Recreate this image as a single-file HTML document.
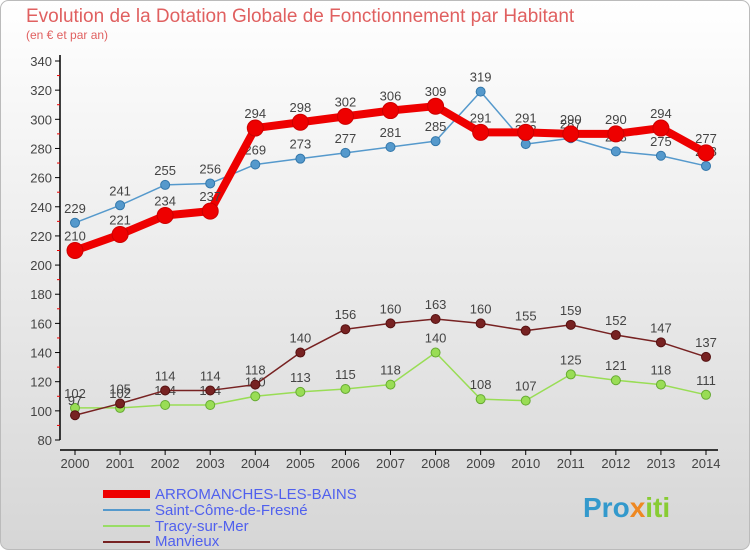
<!DOCTYPE html>
<html><head><meta charset="utf-8"><style>
body{margin:0;width:750px;height:550px;overflow:hidden;font-family:"Liberation Sans",sans-serif}
#c{position:absolute;left:0;top:0}
</style></head><body>
<svg id="c" width="750" height="550" xmlns="http://www.w3.org/2000/svg">
<defs><linearGradient id="bg" x1="0" y1="0" x2="0" y2="1"><stop offset="0" stop-color="#ffffff"/><stop offset="1" stop-color="#d6d6d6"/></linearGradient></defs>
<rect x="0.5" y="0.5" width="749" height="549" rx="8" fill="url(#bg)" stroke="#bbb"/>
<text x="26" y="22" font-size="19" fill="#e06060">Evolution de la Dotation Globale de Fonctionnement par Habitant</text>
<text x="26" y="39" font-size="12" fill="#e06060">(en € et par an)</text>
<g id="axes"></g><g id="series"></g>
<g>
<line x1="103" y1="494" x2="150" y2="494" stroke="#e00" stroke-width="8"/>
<text x="155" y="499" font-size="15" fill="#5060ee">ARROMANCHES-LES-BAINS</text>
<line x1="103" y1="510" x2="150" y2="510" stroke="#5599cc" stroke-width="2"/>
<text x="155" y="515" font-size="15" fill="#5060ee">Saint-Côme-de-Fresné</text>
<line x1="103" y1="526" x2="150" y2="526" stroke="#99dd66" stroke-width="2"/>
<text x="155" y="531" font-size="15" fill="#5060ee">Tracy-sur-Mer</text>
<line x1="103" y1="542" x2="150" y2="542" stroke="#772222" stroke-width="2"/>
<text x="155" y="546" font-size="15" fill="#5060ee">Manvieux</text>
</g>
<text x="583" y="517" font-size="28" font-weight="bold" fill="#3399cc">Pro<tspan fill="#ee8822">x</tspan><tspan fill="#88cc33">iti</tspan></text>
</svg>
<script>
const years=[2000,2001,2002,2003,2004,2005,2006,2007,2008,2009,2010,2011,2012,2013,2014];
const arromanches=[210,221,234,237,294,298,302,306,309,291,291,290,290,294,277];
const saintCome=[229,241,255,256,269,273,277,281,285,319,283,287,278,275,268];
const tracy=[102,102,104,104,110,113,115,118,140,108,107,125,121,118,111];
const manvieux=[97,105,114,114,118,140,156,160,163,160,155,159,152,147,137];
const yTicks=[80,100,120,140,160,180,200,220,240,260,280,300,320,340];
const NS="http://www.w3.org/2000/svg";
const xs=i=>75+i*(631/14);
const ys=v=>440-(v-80)*(379/260);
function mk(t,a,p){const e=document.createElementNS(NS,t);for(const k in a)e.setAttribute(k,a[k]);p.appendChild(e);return e;}
const ax=document.getElementById('axes');
let l=mk('line',{x1:60,y1:55,x2:60,y2:440,stroke:'#000','stroke-width':1.5},ax);


l=mk('line',{x1:60,y1:450,x2:718,y2:450,stroke:'#000','stroke-width':1.5},ax);


yTicks.forEach((v,i)=>{
 mk('line',{x1:55,y1:ys(v),x2:60,y2:ys(v),stroke:'#000'},ax);
 if(i<yTicks.length-1)mk('line',{x1:57,y1:ys(v+10),x2:60,y2:ys(v+10),stroke:'#e00'},ax);
 const t=mk('text',{x:52,y:ys(v)+5,'font-size':13,fill:'#444','text-anchor':'end'},ax);t.textContent=v;
 
 
});
years.forEach((y,i)=>{
 mk('line',{x1:xs(i),y1:450,x2:xs(i),y2:455,stroke:'#000'},ax);
 const t=mk('text',{x:xs(i),y:468,'font-size':13,fill:'#444','text-anchor':'middle'},ax);t.textContent=y;
 
 
});
const sg=document.getElementById('series');
function series(data,color,w,r,name,dark){
 const g=mk('g',{},sg);
 
 
 mk('polyline',{points:data.map((v,i)=>xs(i)+','+ys(v)).join(' '),fill:'none',stroke:color,'stroke-width':w,'stroke-linejoin':'round'},g);
 data.forEach((v,i)=>{
  const c=mk('circle',{cx:xs(i),cy:ys(v),r:r,fill:color,stroke:dark,'stroke-width':1},g);
  
  
  const t=mk('text',{x:xs(i),y:ys(v)-10,'font-size':13,fill:'#444','text-anchor':'middle'},g);t.textContent=v;
  
  
 });
}
series(tracy,'#99dd55',1.5,4.5,'tracy-series','#66aa33');
series(manvieux,'#772222',1.5,4.5,'manvieux-series','#551111');
series(saintCome,'#5599cc',1.5,4.5,'saint-come-series','#3377aa');
series(arromanches,'#ee0000',8,8,'arromanches-series','#cc0000');
</script>
</body></html>
